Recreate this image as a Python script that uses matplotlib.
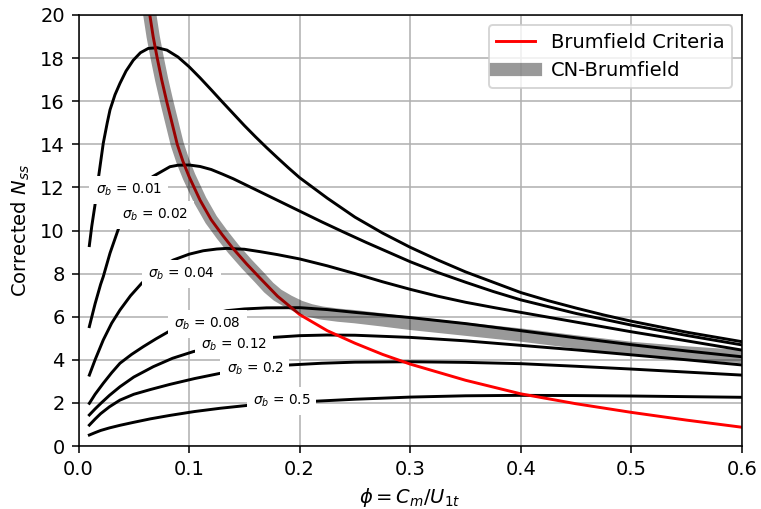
import matplotlib
matplotlib.use("Agg")
import matplotlib.pyplot as plt

# ---- data ----
phi_s001 = [0.0098, 0.012, 0.0149, 0.0179, 0.0224, 0.026, 0.0285, 0.033, 0.0375, 0.043,
            0.0495, 0.056, 0.0631, 0.0712, 0.08, 0.09, 0.1, 0.11, 0.12, 0.13,
            0.14, 0.15, 0.16, 0.17, 0.18, 0.19, 0.2, 0.225, 0.25, 0.275,
            0.3, 0.325, 0.35, 0.375, 0.4, 0.425, 0.45, 0.475, 0.5, 0.55, 0.6]
n_s001 = [9.3, 10.2, 11.18, 12.4, 14.05, 15.0, 15.6, 16.3, 16.83, 17.4,
          17.9, 18.25, 18.45, 18.48, 18.37, 18.05, 17.6, 17.08, 16.53, 15.97,
          15.42, 14.87, 14.35, 13.85, 13.37, 12.9, 12.45, 11.5, 10.62, 9.88,
          9.22, 8.63, 8.08, 7.6, 7.12, 6.74, 6.4, 6.08, 5.79, 5.28, 4.84]

phi_s002 = [0.0098, 0.015, 0.02, 0.0224, 0.0285, 0.036, 0.045, 0.055, 0.067, 0.0827,
            0.09, 0.1, 0.11, 0.12, 0.13, 0.14, 0.15, 0.164, 0.18, 0.2,
            0.22, 0.24, 0.26, 0.28, 0.3, 0.325, 0.35, 0.375, 0.4, 0.45,
            0.5, 0.55, 0.6]
n_s002 = [5.54, 6.6, 7.5, 7.86, 8.95, 10.06, 11.0, 11.8, 12.5, 12.96,
          13.03, 13.04, 12.97, 12.83, 12.62, 12.4, 12.15, 11.8, 11.4, 10.9,
          10.4, 9.92, 9.45, 9.0, 8.55, 8.05, 7.6, 7.17, 6.78, 6.15,
          5.61, 5.13, 4.69]

phi_s004 = [0.0098, 0.015, 0.0224, 0.03, 0.0375, 0.047, 0.0571, 0.07, 0.0857, 0.1,
            0.1128, 0.125, 0.134, 0.15, 0.164, 0.18, 0.2, 0.225, 0.25, 0.275,
            0.3, 0.325, 0.35, 0.375, 0.4, 0.45, 0.5, 0.55, 0.6]
n_s004 = [3.29, 4.0, 4.92, 5.7, 6.31, 6.97, 7.55, 8.15, 8.63, 8.9,
          9.06, 9.14, 9.17, 9.13, 9.02, 8.88, 8.68, 8.36, 8.0, 7.62,
          7.27, 6.95, 6.67, 6.43, 6.2, 5.75, 5.3, 4.88, 4.45]

phi_s008 = [0.0098, 0.015, 0.0224, 0.03, 0.0375, 0.048, 0.0586, 0.07, 0.0812, 0.1,
            0.115, 0.134, 0.15, 0.17, 0.2, 0.225, 0.25, 0.275, 0.3, 0.35,
            0.4, 0.45, 0.5, 0.55, 0.6]
n_s008 = [1.98, 2.4, 2.91, 3.4, 3.84, 4.25, 4.61, 4.97, 5.3, 5.75,
          6.05, 6.28, 6.36, 6.41, 6.42, 6.33, 6.2, 6.08, 5.96, 5.68,
          5.35, 5.02, 4.7, 4.41, 4.14]

phi_s012 = [0.0098, 0.015, 0.02, 0.028, 0.0375, 0.05, 0.0676, 0.085, 0.1038, 0.13,
            0.155, 0.176, 0.2, 0.225, 0.25, 0.3, 0.35, 0.4, 0.45, 0.5,
            0.55, 0.6]
n_s012 = [1.44, 1.72, 1.97, 2.35, 2.75, 3.2, 3.68, 4.07, 4.38, 4.7,
          4.92, 5.04, 5.12, 5.15, 5.14, 5.04, 4.88, 4.67, 4.46, 4.23,
          4.0, 3.76]

phi_s020 = [0.0098, 0.015, 0.02, 0.028, 0.0375, 0.05, 0.065, 0.0827, 0.105, 0.1279,
            0.16, 0.191, 0.22, 0.25, 0.3, 0.35, 0.4, 0.45, 0.5, 0.55, 0.6]
n_s020 = [0.97, 1.25, 1.5, 1.82, 2.13, 2.4, 2.62, 2.86, 3.13, 3.37,
          3.6, 3.76, 3.84, 3.89, 3.91, 3.88, 3.82, 3.7, 3.57, 3.43, 3.29]

phi_s050 = [0.0098, 0.015, 0.02, 0.028, 0.0375, 0.05, 0.065, 0.0827, 0.105, 0.128,
            0.152, 0.18, 0.215, 0.25, 0.3, 0.35, 0.4, 0.45, 0.5, 0.55, 0.6]
n_s050 = [0.51, 0.62, 0.72, 0.84, 0.96, 1.1, 1.26, 1.42, 1.6, 1.75,
          1.88, 1.98, 2.08, 2.17, 2.27, 2.33, 2.35, 2.34, 2.32, 2.29, 2.26]

phi_brumfield = [0.062, 0.0645, 0.0675, 0.0712, 0.0752, 0.0797, 0.0845, 0.0893, 0.0945, 0.1,
                 0.11, 0.12, 0.13, 0.14, 0.152, 0.164, 0.18, 0.2, 0.225, 0.25,
                 0.275, 0.3, 0.35, 0.4, 0.45, 0.5, 0.55, 0.6]
n_brumfield = [21.2, 20.0, 19.0, 18.0, 17.0, 16.0, 15.0, 14.0, 13.2, 12.5,
               11.4, 10.5, 9.8, 9.15, 8.45, 7.8, 6.95, 6.1, 5.35, 4.77,
               4.25, 3.8, 3.05, 2.42, 1.96, 1.56, 1.2, 0.87]

phi_cn = [0.062, 0.0645, 0.0675, 0.0712, 0.0752, 0.0797, 0.0845, 0.0893, 0.0945, 0.1,
          0.11, 0.12, 0.13, 0.14, 0.152, 0.164, 0.172, 0.18, 0.19, 0.2,
          0.21, 0.22, 0.235, 0.25, 0.275, 0.3, 0.35, 0.4, 0.45, 0.5, 0.55, 0.6]
n_cn = [21.2, 20.0, 19.0, 18.0, 17.0, 16.0, 15.0, 14.0, 13.2, 12.5,
        11.4, 10.5, 9.8, 9.15, 8.45, 7.8, 7.35, 7.0, 6.7, 6.45,
        6.28, 6.17, 6.07, 6.0, 5.85, 5.69, 5.42, 5.15, 4.83, 4.53, 4.32, 4.15]

sigma_labels = ["0.01", "0.02", "0.04", "0.08", "0.12", "0.2", "0.5"]
label_phi = [0.0454, 0.0694, 0.0928, 0.1166, 0.1404, 0.1595, 0.1836]
label_n = [11.88, 10.72, 7.98, 5.66, 4.69, 3.57, 2.09]

x_ticks = [0.0, 0.1, 0.2, 0.3, 0.4, 0.5, 0.6]
y_ticks = [0, 2, 4, 6, 8, 10, 12, 14, 16, 18, 20]

# ---- plot ----
fig = plt.figure(figsize=(761 / 140, 509 / 140), dpi=140)
ax = fig.add_axes([78.5 / 761, 1 - 446 / 509, (742 - 78.5) / 761, (446 - 15) / 509])

curves = [(phi_s001, n_s001), (phi_s002, n_s002), (phi_s004, n_s004), (phi_s008, n_s008),
          (phi_s012, n_s012), (phi_s020, n_s020), (phi_s050, n_s050)]
for px, ny in curves:
    ax.plot(px, ny, color="black", lw=1.5, zorder=2, solid_joinstyle="round")

ax.plot(phi_brumfield, n_brumfield, color="red", lw=1.5, zorder=2, label="Brumfield Criteria",
        solid_joinstyle="round")
ax.plot(phi_cn, n_cn, color="black", alpha=0.4, lw=6.8, zorder=3, label="CN-Brumfield",
        solid_joinstyle="round")

for lab, lx, ly in zip(sigma_labels, label_phi, label_n):
    ax.text(lx, ly, r"$\sigma_b$ = " + lab, fontsize=7, ha="center", va="center", zorder=5,
            bbox=dict(boxstyle="square,pad=0.45", fc="white", ec="none"))

ax.set_xlim(0, 0.6)
ax.set_ylim(0, 20)
ax.set_xticks(x_ticks)
ax.set_yticks(y_ticks)
ax.grid(True, zorder=0)
ax.set_axisbelow(True)
ax.set_xlabel(r"$\phi = C_m/U_{1t}$")
ax.set_ylabel(r"Corrected $N_{ss}$")
ax.legend(loc="upper right")

fig.savefig("out.png", dpi=140)
